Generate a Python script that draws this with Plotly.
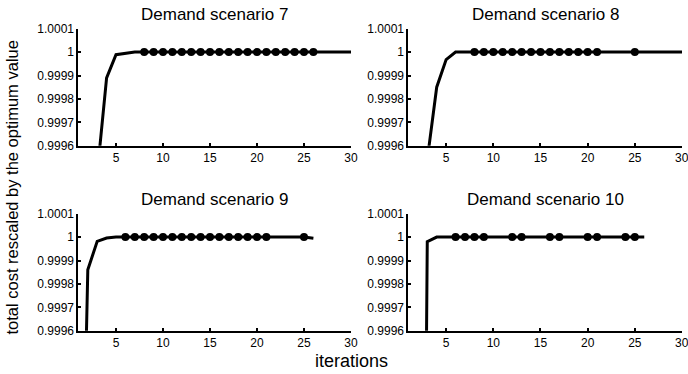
import plotly.graph_objects as go

# ---- data ----
titles = ["Demand scenario 7", "Demand scenario 8", "Demand scenario 9", "Demand scenario 10"]

iter7 = [3, 4, 5, 6, 7, 8, 9, 10, 11, 12, 13, 14, 15, 16, 17, 18, 19, 20, 21, 22, 23, 24, 25, 26, 27, 28, 29, 30]
cost7 = [0.99948, 0.99989, 0.999989, 0.999995, 1.0, 1.0, 1.0, 1.0, 1.0, 1.0, 1.0, 1.0, 1.0, 1.0,
         1.0, 1.0, 1.0, 1.0, 1.0, 1.0, 1.0, 1.0, 1.0, 1.0, 1.0, 1.0, 1.0, 1.0]
mark7 = [8, 9, 10, 11, 12, 13, 14, 15, 16, 17, 18, 19, 20, 21, 22, 23, 24, 25, 26]

iter8 = [3, 4, 5, 6, 7, 8, 9, 10, 11, 12, 13, 14, 15, 16, 17, 18, 19, 20, 21, 22, 23, 24, 25, 26, 27, 28, 29, 30]
cost8 = [0.99954, 0.99985, 0.999968, 1.0, 1.0, 1.0, 1.0, 1.0, 1.0, 1.0, 1.0, 1.0, 1.0, 1.0,
         1.0, 1.0, 1.0, 1.0, 1.0, 1.0, 1.0, 1.0, 1.0, 1.0, 1.0, 1.0, 1.0, 1.0]
mark8 = [8, 9, 10, 11, 12, 13, 14, 15, 16, 17, 18, 19, 20, 21, 25]

iter9 = [1, 2, 3, 4, 5, 6, 7, 8, 9, 10, 11, 12, 13, 14, 15, 16, 17, 18, 19, 20, 21, 22, 23, 24, 25, 26]
cost9 = [0.998, 0.99986, 0.999982, 0.999996, 1.0, 1.0, 1.0, 1.0, 1.0, 1.0, 1.0, 1.0, 1.0,
         1.0, 1.0, 1.0, 1.0, 1.0, 1.0, 1.0, 1.0, 1.0, 1.0, 1.0, 1.0, 0.999995]
mark9 = [6, 7, 8, 9, 10, 11, 12, 13, 14, 15, 16, 17, 18, 19, 20, 21, 25]

iter10 = [2, 3, 4, 5, 6, 7, 8, 9, 10, 11, 12, 13, 14, 15, 16, 17, 18, 19, 20, 21, 22, 23, 24, 25, 26]
cost10 = [0.995, 0.99998, 1.0, 1.0, 1.0, 1.0, 1.0, 1.0, 1.0, 1.0, 1.0, 1.0, 1.0, 1.0,
          1.0, 1.0, 1.0, 1.0, 1.0, 1.0, 1.0, 1.0, 1.0, 1.0, 1.0]
mark10 = [6, 7, 8, 9, 12, 13, 16, 17, 20, 21, 24, 25]

x_ticks = [5, 10, 15, 20, 25, 30]
y_ticks = [0.9996, 0.9997, 0.9998, 0.9999, 1.0, 1.0001]
y_tick_text = ["0.9996", "0.9997", "0.9998", "0.9999", "1", "1.0001"]

x_label = "iterations"
y_label = "total cost rescaled by the optimum value"

# ---- layout geometry ----
W, H = 688, 374
xdoms = [[78.4 / W, 351 / W], [408.4 / W, 682 / W]]
ydoms = [[1 - 145.7 / H, 1 - 28.7 / H], [1 - 330.7 / H, 1 - 213.7 / H]]

panels = [
    (iter7, cost7, mark7, 0, 0),
    (iter8, cost8, mark8, 1, 0),
    (iter9, cost9, mark9, 0, 1),
    (iter10, cost10, mark10, 1, 1),
]

FONT = "Liberation Sans, Arial, Helvetica, sans-serif"
TICKFONT = dict(family=FONT, size=12, color="black")

fig = go.Figure()
layout = {}
annotations = []
for i, (xs, ys, marks, col, row) in enumerate(panels):
    n = "" if i == 0 else str(i + 1)
    xa, ya = "x" + n, "y" + n
    marky = [ys[xs.index(m)] for m in marks]
    fig.add_trace(go.Scatter(x=xs, y=ys, mode="lines", xaxis=xa, yaxis=ya,
                             line=dict(color="black", width=3), showlegend=False,
                             hoverinfo="skip"))
    fig.add_trace(go.Scatter(x=marks, y=marky, mode="markers", xaxis=xa, yaxis=ya,
                             marker=dict(color="black", size=8), showlegend=False,
                             cliponaxis=False))
    show_x_labels = col == 0
    layout["xaxis" + n] = dict(domain=xdoms[col], range=[1, 30], anchor=ya,
                               tickvals=x_ticks, ticks="inside", ticklen=3, tickwidth=1.5,
                               tickcolor="black", showline=True, linecolor="black",
                               linewidth=2, showgrid=False, zeroline=False,
                               ticklabelstandoff=0, automargin=False,
                               tickfont=TICKFONT)
    layout["yaxis" + n] = dict(domain=ydoms[row], range=[0.9996, 1.0001], anchor=xa,
                               tickvals=y_ticks, ticktext=y_tick_text, ticks="inside",
                               ticklen=3, tickwidth=1.5, tickcolor="black",
                               showline=True, linecolor="black", linewidth=2,
                               showgrid=False, zeroline=False, automargin=False,
                               tickfont=TICKFONT)
    cx = (xdoms[col][0] + xdoms[col][1]) / 2
    annotations.append(dict(text=titles[i], x=cx, y=ydoms[row][1] + 14.5 / H,
                            xref="paper", yref="paper", xanchor="center", yanchor="middle",
                            showarrow=False, font=dict(family=FONT, size=17, color="black")))
    if col == 1:
        # the last tick label runs past the page edge; draw it so it is cut like the original
        annotations.append(dict(text=str(x_ticks[-1]), x=x_ticks[-1], xref=xa,
                                y=ydoms[row][0] - 12.5 / H, yref="paper",
                                xanchor="center", yanchor="middle", showarrow=False,
                                font=TICKFONT))

annotations.append(dict(text=x_label, x=351.5 / W, y=1 - 361 / H, xref="paper", yref="paper",
                        xanchor="center", yanchor="middle", showarrow=False,
                        font=dict(family=FONT, size=18, color="black")))
annotations.append(dict(text=y_label, x=11.5 / W, y=1 - 188 / H, xref="paper", yref="paper",
                        xanchor="center", yanchor="middle", showarrow=False, textangle=-90,
                        font=dict(family=FONT, size=16.5, color="black")))

fig.update_layout(width=W, height=H, margin=dict(l=0, r=0, t=0, b=0),
                  paper_bgcolor="white", plot_bgcolor="white",
                  annotations=annotations, **layout)

fig.write_html("out.html", config={"displayModeBar": False},
               post_script="document.body.style.margin='0';document.body.style.overflow='hidden';")
